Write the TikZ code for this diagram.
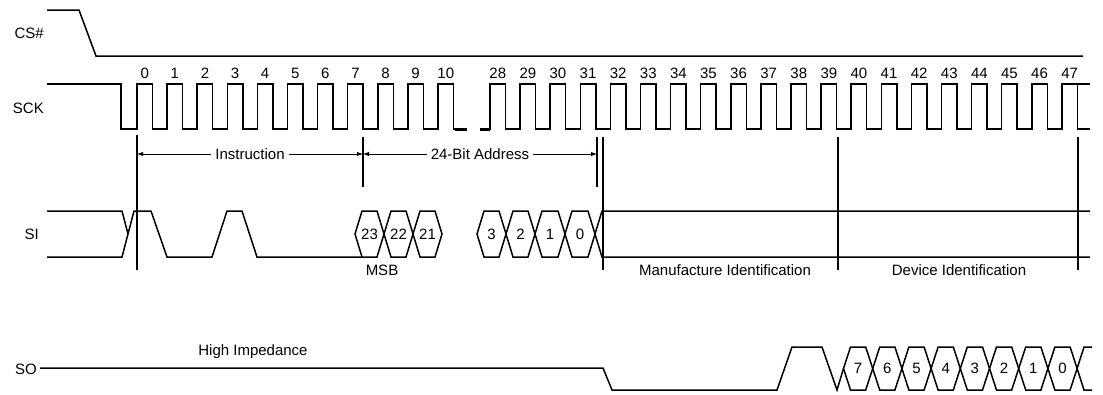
\documentclass[tikz,border=0pt]{standalone}
\usepackage{fontspec}
\setmainfont{Liberation Sans}
\usetikzlibrary{arrows.meta}
\newcommand\hexcell[6]{%
  \draw[wave] (#1,{(#3+#4)/2}) -- ({#1+7},#3) -- ({#2-7},#3) -- (#2,{(#3+#4)/2}) -- ({#2-7},#4) -- ({#1+7},#4) -- cycle;
  \node[lbl] (#6) at ({(#1+#2)/2},{(#3+#4)/2}) {#5};}
\begin{document}
\begin{tikzpicture}[x=1pt,y=-1pt,
  wave/.style={line width=1.5pt,line join=miter},
  marker/.style={line width=1.5pt},
  dimline/.style={line width=0.9pt},
  lbl/.style={font=\fontsize{15}{17}\selectfont,inner sep=0pt},
  tip/.style={-{Latex[length=6pt,width=4.5pt]}}]
\useasboundingbox (0,0) rectangle (1103,394);

% signal names
\node[lbl,anchor=east] (lcs) at (44,33) {CS\#};
\node[lbl,anchor=east] (lsck) at (44,108) {SCK};
\node[lbl,anchor=east] (lsi) at (39,234) {SI};
\node[lbl,anchor=east] (lso) at (37,369) {SO};

% CS#
\draw[wave] (47,10) -- (79,10) -- (96,56) -- (1083,56);

% SCK
\draw[wave] (47,84) -- (121,84) -- (121,129) -- (137,129)
  \foreach \k in {0,...,10} { -- ({137+30.1*\k},129) -- ({137+30.1*\k},84) -- ({152.5+30.1*\k},84) -- ({152.5+30.1*\k},129) }
  -- (467,129);
\draw[line width=3pt] (455,129) -- (467,129);
\draw[line width=3pt] (480,129) -- (490,129);
\draw[wave] (480,129)
  \foreach \k in {0,...,19} { -- ({490+30.1*\k},129) -- ({490+30.1*\k},84) -- ({505.5+30.1*\k},84) -- ({505.5+30.1*\k},129) }
  -- (1090,129);
\draw[wave] (1062,84) -- (1090,84);

% clock numbers
\foreach \k in {0,...,10} \node[lbl] (ck\k) at ({144.75+30.1*\k},73) {\k};
\foreach \k in {28,...,47} \node[lbl] (ck\k) at ({497.75+30.1*(\k-28)},73) {\k};

% marker lines
\draw[marker] (137,135) -- (137,270);
\draw[marker] (363,137) -- (363,187);
\draw[marker] (597,137) -- (597,187);
\draw[marker] (603,137) -- (603,270);
\draw[marker] (838,137) -- (838,270);
\draw[marker] (1078,137) -- (1078,270);

% dimension arrows
\coordinate (i0) at (137,154);
\coordinate (i1) at (363,154);
\coordinate (a1) at (597,154);
\node[lbl] (instr) at (250,154) {Instruction};
\node[lbl] (addr) at (480,154) {24-Bit Address};
\draw[dimline,tip] ([xshift=-4pt]instr.west) -- (i0);
\draw[dimline,tip] ([xshift=4pt]instr.east) -- (i1);
\draw[dimline,tip] ([xshift=-4pt]addr.west) -- (i1);
\draw[dimline,tip] ([xshift=4pt]addr.east) -- (a1);

% SI
\draw[wave] (47,211) -- (122,211) -- (128,234);
\draw[wave] (47,257) -- (122,257) -- (134,211) -- (151,211) -- (167,257) -- (212,257)
  -- (227,211) -- (242,211) -- (257,257) -- (362,257);
\hexcell{355}{384}{211}{257}{23}{si23}
\hexcell{384}{413}{211}{257}{22}{si22}
\hexcell{413}{442}{211}{257}{21}{si21}
\hexcell{477}{506}{211}{257}{3}{si3}
\hexcell{506}{535}{211}{257}{2}{si2}
\hexcell{535}{565}{211}{257}{1}{si1}
\hexcell{565}{595}{211}{257}{0}{si0}
\draw[wave] (595,234) -- (602,211) -- (1090,211);
\draw[wave] (595,234) -- (602,257) -- (1090,257);
\node[lbl] (msb) at (382,270) {MSB};
\node[lbl] (mid) at (725,270) {Manufacture Identification};
\node[lbl] (did) at (959,270) {Device Identification};

% SO
\node[lbl] (hiz) at (253,352) {High Impedance};
\draw[wave] (40,368) -- (603,368) -- (612,390) -- (777,390) -- (792,347) -- (822,347) -- (837,390) -- (843.5,368.5);
\foreach \lab [count=\i from 0] in {7,6,5,4,3,2,1,0} {
  \pgfmathsetmacro\xa{843.5+29.2*\i}
  \pgfmathsetmacro\xb{\xa+29.2}
  \hexcell{\xa}{\xb}{347}{390}{\lab}{so\lab}
}
\draw[wave] (1077.1,368.5) -- (1084,347) -- (1092,347);
\draw[wave] (1077.1,368.5) -- (1084,390) -- (1092,390);
\end{tikzpicture}
\end{document}
